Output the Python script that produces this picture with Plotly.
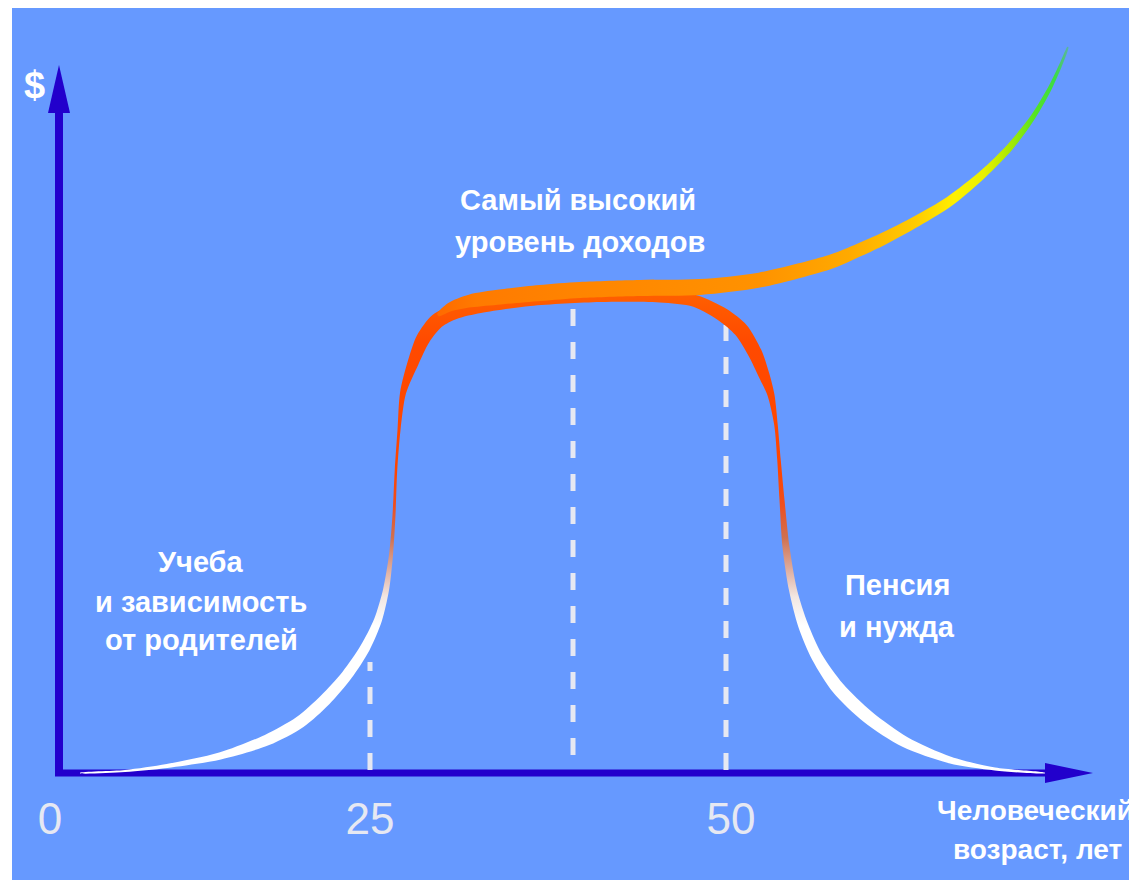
import numpy as np
import plotly.graph_objects as go

# ---------------- data (schematic units: x along the age axis, y = income height) ----------------
# lower ribbon: study -> peak income -> retirement
low_x = [80, 125, 167, 220, 267, 300, 325, 347, 365, 378, 386, 391, 394, 396, 399, 403, 413, 423,
         437, 455, 480, 530, 600, 660, 695, 723, 741, 755, 764, 771, 776, 779, 782, 786, 793, 803,
         817, 838, 868, 905, 950, 995, 1045]
low_y = [0, 2, 7, 17, 33, 51, 73, 98, 125, 153, 183, 218, 258, 303, 343, 380, 410, 434,
         452, 461, 466, 472, 476, 476, 472, 458, 443, 420, 398, 378, 348, 313, 273, 226, 183, 148,
         116, 85, 56, 31, 13, 4, 0]
low_w = [0.5, 2, 4, 7, 11, 12, 12, 11, 10, 8, 6, 4, 3, 2.5, 3, 6, 11, 14,
         15, 14, 12, 10, 10, 11, 12, 14, 15, 14, 11, 7, 3.5, 3.5, 5, 7, 8, 10,
         11, 13, 13, 11, 7, 3, 0.5]

# upper ribbon: continuing growth of income
up_x = [438, 450, 470, 500, 540, 580, 640, 700, 760, 830, 850, 883, 917, 950, 983, 1010,
        1033, 1050, 1062, 1068]
up_y = [458, 466, 472, 476, 480, 483, 485, 486, 493, 511, 519, 534, 552, 572, 599, 626,
        656, 685, 711, 726]
up_w = [3, 9, 13, 15, 16, 16, 16, 16, 15, 14, 13, 12, 11, 10, 8, 7, 5, 4, 3, 1]

# age ticks
tick_pos = [50, 370, 731]
tick_text = ["0", "25", "50"]

# dashed guide lines
guide_x = [370, 573, 726]
guide_bottom = [3, 18, 3]
guide_top = [111, 471, 448]

# labels
label_lines = [
    ("Самый высокий", 578, 573),
    ("уровень доходов", 580, 531),
    ("Учеба", 201, 211),
    ("и зависимость", 201, 171),
    ("от родителей", 201, 133),
    ("Пенсия", 897, 188),
    ("и нужда", 897, 146),
]
axis_title_lines = [("Человеческий", 1035, -37), ("возраст, лет", 1037, -76)]

BG = "#6699FF"
AXIS = "#2200CC"
FONT = "Liberation Sans, Arial, sans-serif"


def ribbon(xs, ys, ws):
    x = np.array(xs, float)
    y = np.array(ys, float)
    w = np.array(ws, float) / 2.0
    dx = np.gradient(x)
    dy = np.gradient(y)
    n = np.hypot(dx, dy)
    nx, ny = -dy / n, dx / n
    tx, ty = x + nx * w, y + ny * w
    bx, by = x - nx * w, y - ny * w
    px = np.concatenate([tx, bx[::-1], tx[:1]])
    py = np.concatenate([ty, by[::-1], ty[:1]])
    return px, py


fig = go.Figure()

# dashed guides
for gx, gb, gt in zip(guide_x, guide_bottom, guide_top):
    fig.add_trace(go.Scatter(x=[gx, gx], y=[gb, gt], mode="lines",
                             line=dict(color="#E6E8F2", width=5, dash="17px,16px"),
                             hoverinfo="skip"))

lx, ly = ribbon(low_x, low_y, low_w)
fig.add_trace(go.Scatter(
    x=lx, y=ly, mode="lines", fill="toself",
    line=dict(width=0, shape="spline", smoothing=0.8, color="rgba(0,0,0,0)"),
    fillgradient=dict(type="vertical", start=0, stop=490, colorscale=[
        [0.0, "#FFFFFF"], [0.30, "#FFFFFF"], [0.36, "#F2E6E2"], [0.42, "#DDA898"],
        [0.48, "#CF7050"], [0.55, "#EE4E1E"], [0.62, "#FF4500"], [0.88, "#FF4A00"],
        [1.0, "#FF6400"]]),
    hoverinfo="skip"))

ux, uy = ribbon(up_x, up_y, up_w)
fig.add_trace(go.Scatter(
    x=ux, y=uy, mode="lines", fill="toself",
    line=dict(width=0, shape="spline", smoothing=0.8, color="rgba(0,0,0,0)"),
    fillgradient=dict(type="horizontal", start=438, stop=1068, colorscale=[
        [0.0, "#FF6A00"], [0.06, "#FF7A00"], [0.25, "#FF8600"], [0.51, "#FF9200"],
        [0.653, "#FFAA00"], [0.76, "#FFCC00"], [0.82, "#FFF000"], [0.867, "#E8F000"],
        [0.907, "#AAEA00"], [0.947, "#55E422"], [0.98, "#3CDC44"], [1.0, "#5AB4A0"]]),
    hoverinfo="skip"))

shapes = [
    # y axis
    dict(type="line", x0=59, x1=59, y0=-3, y1=665, line=dict(color=AXIS, width=8), layer="below"),
    dict(type="path", path="M 48,660 L 70,660 L 59,708 Z", fillcolor=AXIS, line=dict(width=0), layer="below"),
    # x axis
    dict(type="line", x0=55, x1=1050, y0=0, y1=0, line=dict(color=AXIS, width=7), layer="below"),
    dict(type="path", path="M 1045,-10 L 1045,10 L 1093,0 Z", fillcolor=AXIS, line=dict(width=0), layer="below"),
]

annotations = [dict(text="$", x=34, y=688, showarrow=False, xanchor="center", yanchor="middle",
                    font=dict(family=FONT, size=38, color="white", weight="bold"))]
for txt, ax_, ay_ in label_lines:
    annotations.append(dict(text=txt, x=ax_, y=ay_, showarrow=False, xanchor="center", yanchor="middle",
                            font=dict(family=FONT, size=29, color="white", weight="bold")))
for txt, ax_, ay_ in axis_title_lines:
    annotations.append(dict(text=txt, x=ax_, y=ay_, showarrow=False, xanchor="center", yanchor="middle",
                            font=dict(family=FONT, size=28, color="white", weight="bold")))

fig.update_layout(
    width=1129, height=872,
    margin=dict(l=4, r=0, t=0, b=0),
    paper_bgcolor="white", plot_bgcolor=BG,
    showlegend=False,
    shapes=shapes, annotations=annotations,
    xaxis=dict(range=[12, 1137], showgrid=False, zeroline=False, showline=False,
               tickmode="array", tickvals=tick_pos, ticktext=tick_text, ticks="",
               tickfont=dict(family=FONT, size=44, color="#E6E8F2"),
               anchor="free", position=(880 - 773) / 872, ticklabelstandoff=16, fixedrange=True),
    yaxis=dict(range=[-107, 765], visible=False, fixedrange=True),
)

fig.write_html("out.html")
